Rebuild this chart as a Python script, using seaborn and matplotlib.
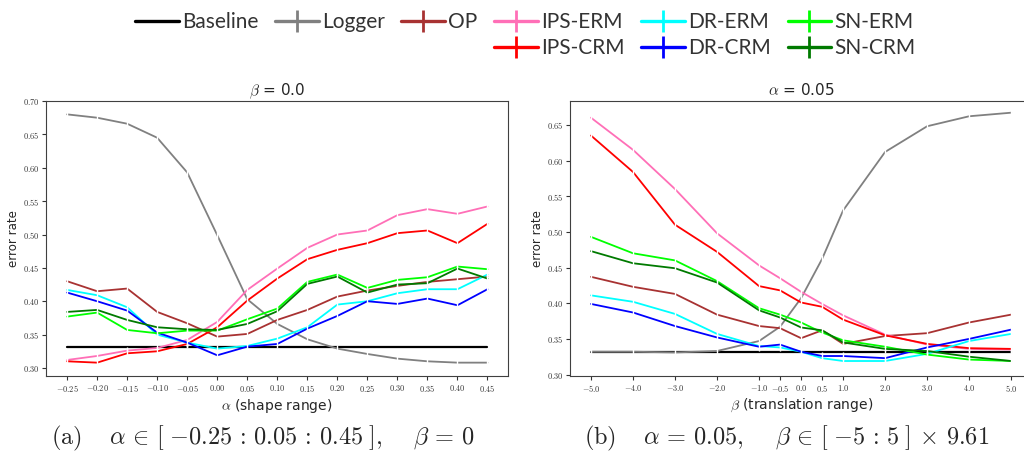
import numpy as np
import pandas as pd
import matplotlib.pyplot as plt
import seaborn as sns
from matplotlib.lines import Line2D

# panel (a): beta = 0, alpha sweep
alpha = [-0.25, -0.20, -0.15, -0.10, -0.05, 0.00, 0.05, 0.10, 0.15, 0.20, 0.25, 0.30, 0.35, 0.40, 0.45]
baseline_a = 0.332
logger_a = [0.680, 0.675, 0.666, 0.645, 0.593, 0.499, 0.403, 0.366, 0.343, 0.329, 0.321, 0.314, 0.310, 0.308, 0.308]
op_a = [0.430, 0.415, 0.419, 0.384, 0.367, 0.347, 0.351, 0.372, 0.387, 0.407, 0.416, 0.423, 0.429, 0.433, 0.437]
ips_erm_a = [0.312, 0.318, 0.326, 0.330, 0.342, 0.369, 0.417, 0.449, 0.480, 0.500, 0.506, 0.529, 0.538, 0.531, 0.542]
ips_crm_a = [0.310, 0.308, 0.322, 0.325, 0.336, 0.361, 0.401, 0.434, 0.463, 0.477, 0.487, 0.502, 0.506, 0.487, 0.516]
dr_erm_a = [0.417, 0.409, 0.391, 0.350, 0.338, 0.329, 0.333, 0.344, 0.361, 0.395, 0.400, 0.412, 0.418, 0.418, 0.440]
dr_crm_a = [0.413, 0.400, 0.386, 0.353, 0.338, 0.319, 0.332, 0.336, 0.359, 0.378, 0.400, 0.396, 0.404, 0.394, 0.418]
sn_erm_a = [0.377, 0.383, 0.357, 0.352, 0.356, 0.356, 0.373, 0.389, 0.429, 0.440, 0.420, 0.432, 0.436, 0.452, 0.448]
sn_crm_a = [0.384, 0.387, 0.372, 0.361, 0.358, 0.357, 0.366, 0.385, 0.426, 0.437, 0.413, 0.425, 0.427, 0.449, 0.434]

# panel (b): alpha = 0.05, beta sweep
beta = [-5.0, -4.0, -3.0, -2.0, -1.0, -0.5, 0.0, 0.5, 1.0, 2.0, 3.0, 4.0, 5.0]
baseline_b = 0.332
logger_b = [0.332, 0.332, 0.331, 0.333, 0.347, 0.367, 0.407, 0.462, 0.530, 0.612, 0.648, 0.662, 0.667]
op_b = [0.437, 0.423, 0.413, 0.384, 0.368, 0.365, 0.351, 0.362, 0.343, 0.354, 0.358, 0.373, 0.384]
ips_erm_b = [0.660, 0.615, 0.560, 0.498, 0.453, 0.435, 0.416, 0.399, 0.383, 0.356, 0.342, 0.336, 0.335]
ips_crm_b = [0.635, 0.584, 0.510, 0.472, 0.424, 0.418, 0.401, 0.395, 0.377, 0.355, 0.343, 0.337, 0.336]
dr_erm_b = [0.411, 0.402, 0.385, 0.357, 0.340, 0.338, 0.332, 0.323, 0.319, 0.319, 0.329, 0.347, 0.357]
dr_crm_b = [0.399, 0.387, 0.368, 0.352, 0.339, 0.342, 0.332, 0.326, 0.326, 0.323, 0.338, 0.350, 0.363]
sn_erm_b = [0.493, 0.470, 0.460, 0.431, 0.393, 0.384, 0.373, 0.359, 0.348, 0.339, 0.328, 0.321, 0.319]
sn_crm_b = [0.473, 0.456, 0.449, 0.429, 0.390, 0.380, 0.366, 0.362, 0.345, 0.336, 0.333, 0.325, 0.319]

methods = ["Logger", "OP", "IPS-ERM", "IPS-CRM", "DR-ERM", "DR-CRM", "SN-ERM", "SN-CRM"]
colors = {"Baseline": "black", "Logger": "#808080", "OP": "#a83232",
          "IPS-ERM": "#ff6fb7", "IPS-CRM": "#ff0000", "DR-ERM": "#00ffff",
          "DR-CRM": "#0000ff", "SN-ERM": "#00ff00", "SN-CRM": "#007a00"}


def to_long(x, series):
    frames = []
    for name, vals in series.items():
        frames.append(pd.DataFrame({"x": x, "err": vals, "method": name}))
    return pd.concat(frames, ignore_index=True)


df_a = to_long(alpha, dict(zip(methods, [logger_a, op_a, ips_erm_a, ips_crm_a,
                                         dr_erm_a, dr_crm_a, sn_erm_a, sn_crm_a])))
df_b = to_long(beta, dict(zip(methods, [logger_b, op_b, ips_erm_b, ips_crm_b,
                                        dr_erm_b, dr_crm_b, sn_erm_b, sn_crm_b])))

sns.set_style("ticks", {"axes.edgecolor": "0.25", "axes.linewidth": 0.9})
plt.rcParams['mathtext.fontset'] = 'cm'

fig = plt.figure(figsize=(10.24, 4.53), dpi=100)
ax1 = fig.add_axes([0.045, 0.170, 0.451, 0.607])
ax2 = fig.add_axes([0.557, 0.170, 0.451, 0.608])


def draw(ax, df, x, base):
    sns.lineplot(x=x, y=[base] * len(x), color="black", lw=1.6, ax=ax)
    sns.lineplot(data=df, x="x", y="err", hue="method", hue_order=methods,
                 palette=colors, marker="|", markersize=6, markeredgewidth=1.0,
                 lw=1.3, legend=False, ax=ax)


draw(ax1, df_a, alpha, baseline_a)
draw(ax2, df_b, beta, baseline_b)

ax1.set_xlim(-0.285, 0.484)
ax1.set_ylim(0.288, 0.70)
ax1.set_xticks(alpha)
ax1.set_xticklabels([f"${v:.2f}$" for v in alpha])
yt1 = [0.30, 0.35, 0.40, 0.45, 0.50, 0.55, 0.60, 0.65, 0.70]
ax1.set_yticks(yt1)
ax1.set_yticklabels([f"${v:.2f}$" for v in yt1])
ax1.set_title(r"$\beta$ = 0.0", fontsize=11, pad=4)
ax1.set_xlabel(r"$\alpha$ (shape range)", fontsize=10, labelpad=2)
ax1.set_ylabel("error rate", fontsize=8.5, labelpad=2)

ax2.set_xlim(-5.49, 5.5)
ax2.set_ylim(0.298, 0.684)
ax2.set_xticks(beta)
ax2.set_xticklabels([f"${v:.1f}$" for v in beta])
yt2 = [0.30, 0.35, 0.40, 0.45, 0.50, 0.55, 0.60, 0.65]
ax2.set_yticks(yt2)
ax2.set_yticklabels([f"${v:.2f}$" for v in yt2])
ax2.set_title(r"$\alpha$ = 0.05", fontsize=11, pad=4)
ax2.set_xlabel(r"$\beta$ (translation range)", fontsize=10, labelpad=2)
ax2.set_ylabel("error rate", fontsize=8.5, labelpad=2)

for ax in (ax1, ax2):
    ax.tick_params(labelsize=6, length=3, width=0.8, pad=2, colors="0.2")

# legend: first three columns have a single entry
blank = Line2D([], [], alpha=0)
def h(name, marker=True):
    return Line2D([], [], color=colors[name], lw=2.4,
                  marker="|" if marker else None, markersize=16, markeredgewidth=2.0)
handles = [h("Baseline", False), blank, h("Logger"), blank, h("OP"), blank,
           h("IPS-ERM"), h("IPS-CRM"), h("DR-ERM"), h("DR-CRM"), h("SN-ERM"), h("SN-CRM")]
labels = ["Baseline", "", "Logger", "", "OP", "", "IPS-ERM", "IPS-CRM",
          "DR-ERM", "DR-CRM", "SN-ERM", "SN-CRM"]
fig.legend(handles, labels, loc="upper center", bbox_to_anchor=(0.513, 1.015),
           ncol=6, frameon=False, handlelength=2.1, handletextpad=0.15,
           columnspacing=0.8, labelspacing=0.3, labelcolor="0.2",
           prop={"family": "Lato", "size": 15})

fig.text(0.257, 0.033,
         r"$\mathrm{(a)}\quad\; \alpha \,\in\, [\;{-0.25} \,:\, 0.05 \,:\, 0.45\;],\quad\; \beta \,=\, 0$",
         ha="center", va="center", fontsize=17.5)
fig.text(0.768, 0.033,
         r"$\mathrm{(b)}\quad\; \alpha \,=\, 0.05,\quad\; \beta \,\in\, [\;{-5} \,:\, 5\;] \,\times\, 9.61$",
         ha="center", va="center", fontsize=17.5)

fig.savefig("out.png", dpi=100)
